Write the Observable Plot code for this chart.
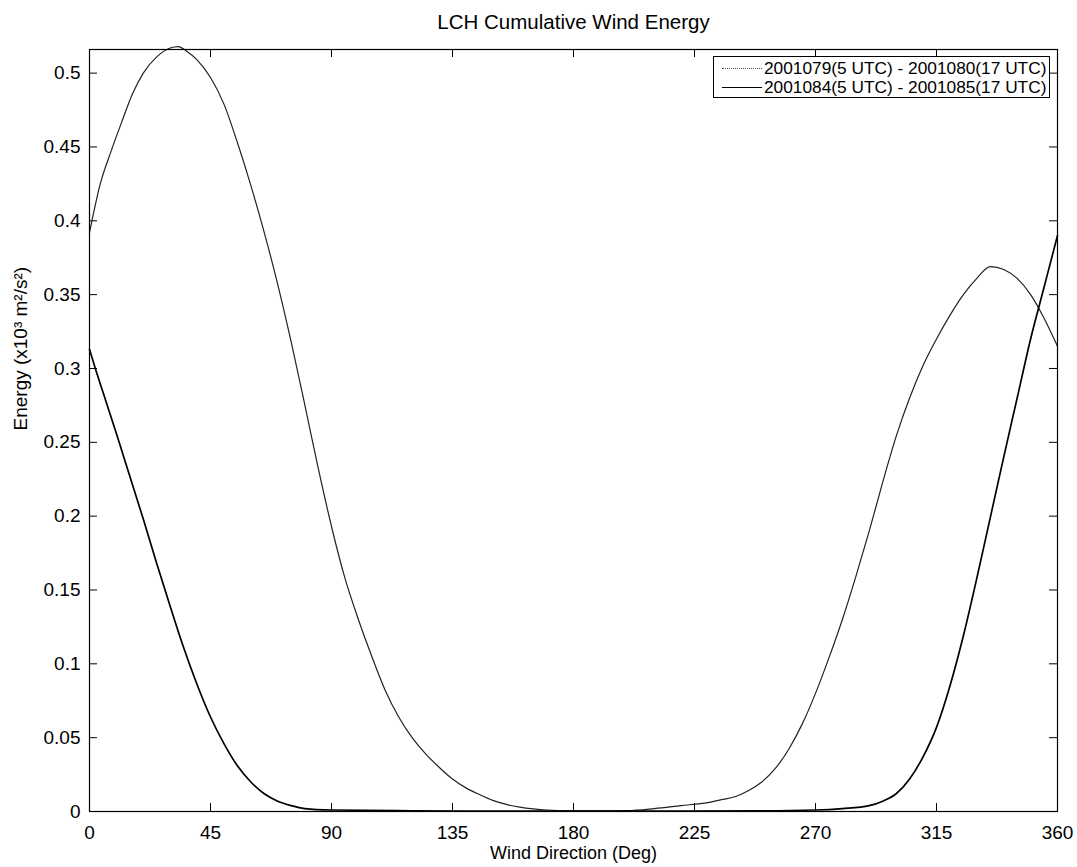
<!DOCTYPE html>
<html>
<head>
<meta charset="utf-8">
<script src="https://cdn.jsdelivr.net/npm/d3@7"></script>
<script src="https://cdn.jsdelivr.net/npm/@observablehq/plot@0.6"></script>
<style>
  html, body { margin: 0; padding: 0; background: #fff; }
  #wrap { position: relative; width: 1077px; height: 867px; font-family: "Liberation Sans", Arial, sans-serif; }
  #legend { position: absolute; left: 713px; top: 56px; width: 337px; height: 42px; border: 1px solid #000; background: #fff; box-sizing: border-box; font-size: 17.3px; color: #000; }
  .row { position: absolute; left: 0; height: 20px; line-height: 20px; white-space: nowrap; }
  .sw { position: absolute; left: 8px; width: 40px; top: 10px; }
  .lab { position: absolute; left: 50px; top: 0; }
</style>
</head>
<body>
<div id="wrap"></div>
<script>
// Tick values
const xTicks = [0, 45, 90, 135, 180, 225, 270, 315, 360];
const yTicks = [0, 0.05, 0.1, 0.15, 0.2, 0.25, 0.3, 0.35, 0.4, 0.45, 0.5];

// Series names
const seriesNames = ["2001079(5 UTC) - 2001080(17 UTC)", "2001084(5 UTC) - 2001085(17 UTC)"];

// Series 1 (2001079 - 2001080)
const degA = [0, 4, 8, 12, 16, 20, 25, 30, 33, 36, 40, 45, 50, 55, 60, 65, 70, 75, 80, 85, 90, 95, 100, 105, 110, 115, 120, 125, 130, 135, 140, 145, 150, 155, 160, 165, 170, 180, 190, 200, 210, 220, 230, 235, 240, 245, 250, 255, 260, 265, 270, 275, 280, 285, 290, 295, 300, 305, 310, 315, 320, 325, 330, 335, 340, 345, 350, 355, 360];
const valA = [0.392, 0.425, 0.447, 0.467, 0.486, 0.500, 0.511, 0.517, 0.518, 0.515, 0.509, 0.497, 0.479, 0.453, 0.424, 0.392, 0.357, 0.318, 0.276, 0.233, 0.193, 0.158, 0.130, 0.105, 0.082, 0.064, 0.050, 0.039, 0.030, 0.022, 0.016, 0.0115, 0.0075, 0.0048, 0.003, 0.0018, 0.001, 0.0005, 0.0004, 0.0006, 0.002, 0.004, 0.006, 0.008, 0.010, 0.014, 0.020, 0.029, 0.042, 0.059, 0.080, 0.104, 0.130, 0.159, 0.190, 0.223, 0.254, 0.280, 0.302, 0.320, 0.336, 0.350, 0.361, 0.369, 0.367, 0.361, 0.350, 0.334, 0.315];

// Series 2 (2001084 - 2001085)
const degB = [0, 2, 5, 10, 15, 20, 25, 30, 35, 40, 45, 50, 55, 60, 65, 70, 75, 80, 90, 120, 150, 200, 250, 270, 280, 290, 295, 300, 305, 310, 315, 320, 325, 330, 335, 340, 345, 350, 355, 360];
const valB = [0.313, 0.301, 0.284, 0.256, 0.227, 0.198, 0.168, 0.139, 0.111, 0.086, 0.064, 0.046, 0.031, 0.020, 0.012, 0.007, 0.004, 0.002, 0.001, 0.0005, 0.0003, 0.0003, 0.0005, 0.001, 0.002, 0.004, 0.007, 0.012, 0.022, 0.037, 0.057, 0.085, 0.119, 0.158, 0.199, 0.240, 0.280, 0.320, 0.355, 0.390];

const tableA = degA.map((d, i) => ({deg: d, v: valA[i]}));
const tableB = degB.map((d, i) => ({deg: d, v: valB[i]}));

const W = 1077, H = 867, mT = 49, mB = 56, mL = 89, mR = 20;
const innerH = H - mT - mB, innerW = W - mL - mR;
const tk = 8;
const fmt = d => String(+d.toFixed(2));

const chart = Plot.plot({
  width: W, height: H,
  marginTop: mT, marginBottom: mB, marginLeft: mL, marginRight: mR,
  x: {domain: [0, 360]},
  y: {domain: [0, 0.516]},
  style: {fontFamily: "'Liberation Sans', Arial, sans-serif", fontSize: "19px", background: "#fff", color: "#000", overflow: "visible"},
  marks: [
    Plot.axisX(xTicks, {tickSize: 0, tickPadding: 14, fontSize: 19, label: null}),
    Plot.axisY(yTicks, {tickSize: 0, tickPadding: 9, fontSize: 19, tickFormat: fmt, label: null}),
    Plot.tickX(xTicks, {x: d => d, insetTop: innerH - tk, stroke: "#000"}),
    Plot.tickX(xTicks, {x: d => d, insetBottom: innerH - tk, stroke: "#000"}),
    Plot.tickY(yTicks, {y: d => d, insetRight: innerW - tk, stroke: "#000"}),
    Plot.tickY(yTicks, {y: d => d, insetLeft: innerW - tk, stroke: "#000"}),
    Plot.line(tableA, {x: "deg", y: "v", curve: "monotone-x", stroke: "#222", strokeWidth: 1.2}),
    Plot.line(tableB, {x: "deg", y: "v", curve: "monotone-x", stroke: "#000", strokeWidth: 1.7}),
    Plot.frame({stroke: "#000", strokeWidth: 1.2}),
    Plot.text(["LCH Cumulative Wind Energy"], {frameAnchor: "top", dy: -35, fontSize: 20.5, fill: "#000"}),
    Plot.text(["Wind Direction (Deg)"], {frameAnchor: "bottom", dy: 47, fontSize: 18, fill: "#000"}),
    Plot.text(["Energy (x10³ m²/s²)"], {frameAnchor: "left", dx: -69, rotate: -90, fontSize: 19, fill: "#000"})
  ]
});

const wrap = document.getElementById("wrap");
wrap.appendChild(chart);

const legend = document.createElement("div");
legend.id = "legend";
const styles = [{color: "#555", width: 1, dash: true}, {color: "#000", width: 1.5, dash: false}];
seriesNames.forEach((name, i) => {
  const row = document.createElement("div");
  row.className = "row";
  row.style.top = (i * 19 + 1) + "px";
  row.style.width = "335px";
  const sw = document.createElement("div");
  sw.className = "sw";
  sw.style.borderTop = styles[i].width + "px " + (styles[i].dash ? "dotted" : "solid") + " " + styles[i].color;
  const lab = document.createElement("div");
  lab.className = "lab";
  lab.textContent = name;
  row.appendChild(sw);
  row.appendChild(lab);
  legend.appendChild(row);
});
wrap.appendChild(legend);
</script>
</body>
</html>
